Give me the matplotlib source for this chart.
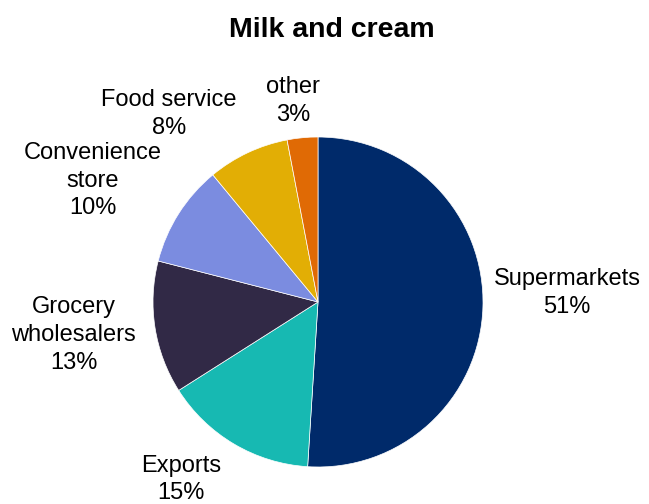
import matplotlib
matplotlib.use("Agg")
import matplotlib.pyplot as plt

plt.rcParams['font.family'] = ['Liberation Sans', 'DejaVu Sans']

# data
categories = ['Supermarkets', 'Exports', 'Grocery\nwholesalers', 'Convenience\nstore', 'Food service', 'other']
shares = [51, 15, 13, 10, 8, 3]
colors = ['#002a6a', '#17b9b2', '#312946', '#7b8ce0', '#e2ae05', '#e06a05']

# label centres in pie-radius units
label_pos = [(1.51, 0.055), (-0.83, -1.075), (-1.48, -0.20), (-1.365, 0.735), (-0.905, 1.14), (-0.15, 1.22)]

W, H = 649, 504
cx, cy, r = 318, 202, 165

fig = plt.figure(figsize=(W / 100, H / 100), dpi=100)
ax = fig.add_axes([0, 0, 1, 1])
ax.pie(shares, colors=colors, startangle=90, counterclock=False, radius=1,
       wedgeprops=dict(linewidth=0.5, edgecolor='white'))
ax.set_xlim(-cx / r, (W - cx) / r)
ax.set_ylim(-cy / r, (H - cy) / r)
ax.set_aspect('equal')
ax.axis('off')

for name, val, (x, y) in zip(categories, shares, label_pos):
    ax.text(x, y, f"{name}\n{val}%", ha='center', va='center', fontsize=17,
            linespacing=1.33, color='black')

fig.text(332 / W, 1 - 30 / H, 'Milk and cream', ha='center', va='center',
         fontsize=20.5, fontweight='bold')

fig.savefig('out.png', dpi=100)
